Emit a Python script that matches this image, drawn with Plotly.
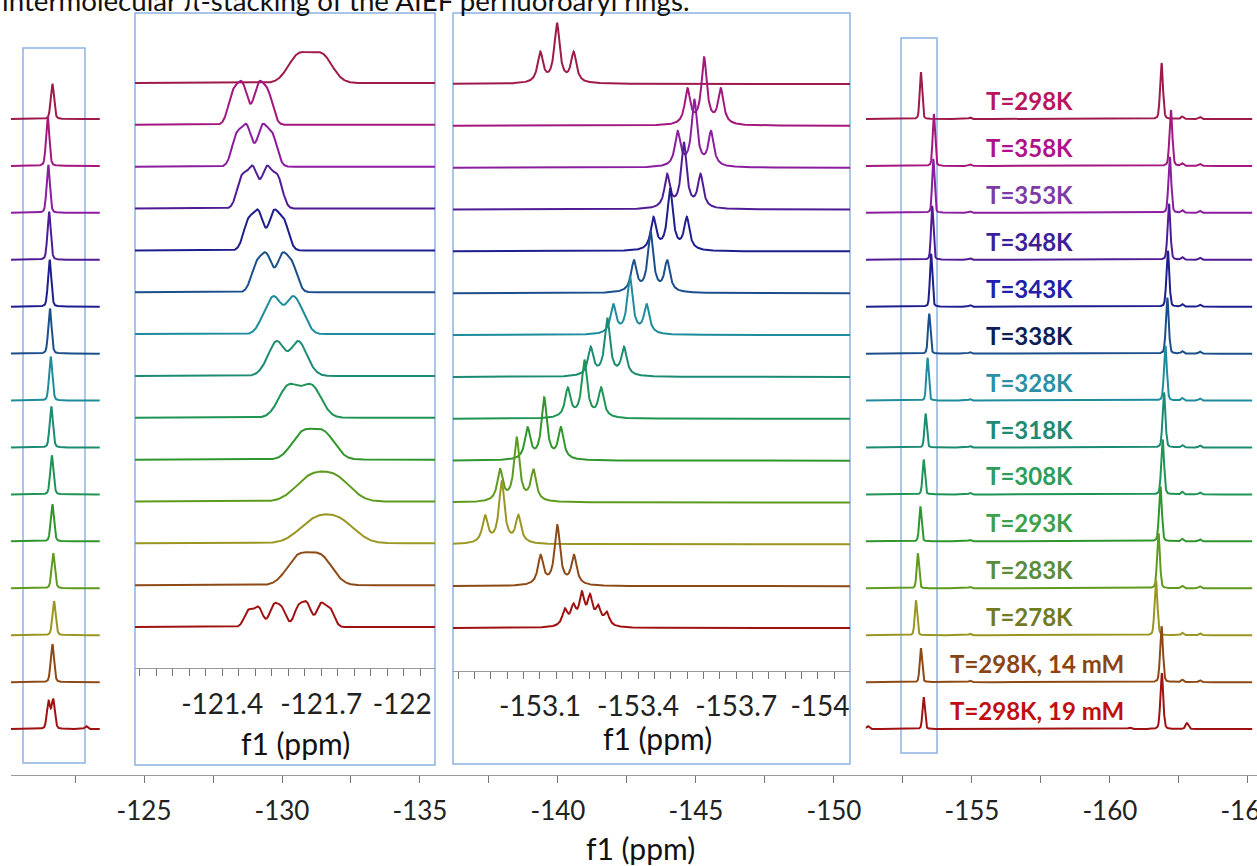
import numpy as np
import plotly.graph_objects as go

# ---------------- data ----------------
labels = ["T=298K", "T=358K", "T=353K", "T=348K", "T=343K", "T=338K", "T=328K",
          "T=318K", "T=308K", "T=293K", "T=283K", "T=278K", "T=298K, 14 mM", "T=298K, 19 mM"]
line_colors = ["#9E1A4A", "#A3177F", "#8A1E9E", "#4F1C96", "#1E1E8E", "#1B4F8C", "#1E8C9C",
               "#1C8B74", "#1E9455", "#2F962E", "#5E9A1E", "#9A9622", "#8E4A16", "#A01212"]
label_colors = ["#B8155E", "#B0108A", "#7D3BA6", "#3D1E99", "#2020AA", "#0F1F55", "#2B90A3",
                "#1F8A72", "#2E9C5A", "#3EA04A", "#5A8C3A", "#707A20", "#8B4513", "#C00F0F"]

# full-range spectrum: peak near -121.6 ppm (left strip)
peakA_ppm = [-121.68, -121.51, -121.53, -121.56, -121.58, -121.59, -121.62,
             -121.64, -121.66, -121.68, -121.71, -121.74, -121.68, -121.60]
peakA_h = [35, 49, 48, 48, 47, 45, 44, 41, 39, 37, 35, 34, 38, 30]
# peak near -153 ppm
peakB_ppm = [-153.15, -153.62, -153.60, -153.56, -153.52, -153.45, -153.39,
             -153.32, -153.25, -153.13, -153.04, -152.97, -153.15, -153.25]
peakB_h = [47, 52, 54, 54, 53, 40, 43, 34, 35, 35, 35, 35, 34, 32]
# peak near -162 ppm
peakC_ppm = [-161.87, -162.21, -162.17, -162.14, -162.10, -162.08, -162.01,
             -161.96, -161.91, -161.83, -161.76, -161.67, -161.87, -161.88]
peakC_h = [56, 56, 56, 56, 56, 56, 55, 55, 55, 55, 55, 55, 56, 56]
# small baseline bumps common to most spectra
bump_ppm = [-154.93, -162.62, -163.26]
bump_h = [1.5, 2.5, 2.0]
# 19 mM spectrum: split left peak and its own small bumps
m19_A_ppm = [-121.54, -121.71]
m19_A_h = [27, 29]
m19_bump_ppm = [-122.90, -151.23, -160.72, -162.79]
m19_bump_h = [3, 3, 1.5, 6]

# inset 1 (-121.1 ... -122.05 ppm)
in1_ppm = [-121.667, -121.486, -121.498, -121.514, -121.533, -121.558, -121.586,
           -121.598, -121.636, -121.676, -121.705, -121.717, -121.665, -121.604]
in1_h = [31, 44, 43, 43, 41, 40, 38, 35, 34, 31, 30, 29, 33, 26]
in1_inner = [0.035, 0.024, 0.023, 0.021, 0.023, 0.023, 0.025, 0.030, 0.035, 0.033, 0.040, 0.040, 0.035, 0.0]
in1_outer = [0.035, 0.053, 0.054, 0.054, 0.054, 0.054, 0.055, 0.060, 0.035, 0.033, 0.040, 0.040, 0.035, 0.0]
in1_outer_rel = [0, 0.78, 0.78, 0.78, 0.76, 0.75, 0.5, 0.25, 0, 0, 0, 0, 0, 0]
in1_width = [0.032, 0.015, 0.015, 0.015, 0.015, 0.016, 0.020, 0.022, 0.030, 0.033, 0.045, 0.048, 0.035, 0.013]
m19_in1_ppm = [-121.480, -121.510, -121.556, -121.581, -121.631, -121.657, -121.699, -121.727]
m19_in1_h = [16, 19, 20, 17, 19, 22, 22, 17]

# inset 2 (-152.8 ... -154.05 ppm): triplets
in2_ppm = [-153.152, -153.602, -153.572, -153.540, -153.498, -153.438, -153.375,
           -153.306, -153.236, -153.113, -153.029, -152.983, -153.153, -153.24]
in2_center_h = [59, 66, 66, 65, 61, 60, 57, 57, 57, 61, 63, 62, 59, 0]
in2_side_h = [30, 35, 34, 33, 32, 31, 29, 28, 29, 31, 31, 27, 29, 0]
in2_J = 0.051
m19_in2_ppm = [-153.176, -153.202, -153.228, -153.253, -153.278, -153.304]
m19_in2_h = [16, 18, 30, 27, 17, 13]

main_ticks = [-125, -130, -135, -140, -145, -150, -155, -160, -165]
in1_ticks = [-121.4, -121.7, -122.0]
in2_ticks = [-153.1, -153.4, -153.7, -154.0]

# ---------------- helpers ----------------
W, H = 1257, 866
N = len(labels)


def gauss(x, c, s):
    return np.exp(-0.5 * ((x - c) / s) ** 2)


def lor(x, c, w):
    return 1.0 / (1.0 + ((x - c) / w) ** 2)


def pv(x, c, w):
    return 0.75 * gauss(x, c, w / 1.1774) + 0.25 * lor(x, c, w)


x_left = np.arange(-120.18, -123.40, -0.004)
x_right = np.arange(-151.16, -165.16, -0.004)
x_in1 = np.linspace(-121.13, -122.05, 1400)
x_in2 = np.linspace(-152.83, -154.05, 1800)

AXIS_Y = 775
MAIN_BASE, MAIN_STEP = AXIS_Y - 119.0, 46.93
IN1_BASE, IN2_BASE, IN_STEP = 585.0, 587.0, 41.85

fig = go.Figure()

for i in range(N):
    col = line_colors[i]
    # ---- main axis (left strip + right part) ----
    off = MAIN_BASE - i * MAIN_STEP
    if i == N - 1:
        yl = sum(h * pv(x_left, p, 0.07) for p, h in zip(m19_A_ppm, m19_A_h))
        yr = peakB_h[i] * pv(x_right, peakB_ppm[i], 0.05) + peakC_h[i] * pv(x_right, peakC_ppm[i], 0.06)
        for p, h in zip(m19_bump_ppm, m19_bump_h):
            yl = yl + h * pv(x_left, p, 0.06)
            yr = yr + h * pv(x_right, p, 0.06)
    else:
        yl = peakA_h[i] * pv(x_left, peakA_ppm[i], 0.07)
        yr = peakB_h[i] * pv(x_right, peakB_ppm[i], 0.05) + peakC_h[i] * pv(x_right, peakC_ppm[i], 0.06)
        for p, h in zip(bump_ppm, bump_h):
            yr = yr + h * pv(x_right, p, 0.05)
    xs = np.concatenate([x_left, [np.nan], x_right])
    ys = np.concatenate([yl + off, [np.nan], yr + off])
    fig.add_trace(go.Scatter(x=xs, y=ys, mode="lines", line=dict(color=col, width=2),
                             xaxis="x", yaxis="y", hoverinfo="skip", connectgaps=False))

    # ---- inset 1 ----
    off1 = IN1_BASE - i * IN_STEP
    if i == N - 1:
        shape = sum(h * gauss(x_in1, p, in1_width[i]) for p, h in zip(m19_in1_ppm, m19_in1_h))
        y1 = in1_h[i] * shape / shape.max()
    else:
        c, s = in1_ppm[i], in1_width[i]
        d1, d2, a2 = in1_inner[i], in1_outer[i], in1_outer_rel[i]
        shape = (gauss(x_in1, c - d1, s) + gauss(x_in1, c + d1, s)
                 + a2 * (gauss(x_in1, c - d2, s) + gauss(x_in1, c + d2, s)))
        y1 = in1_h[i] * shape / shape.max()
    fig.add_trace(go.Scatter(x=x_in1, y=y1 + off1, mode="lines", line=dict(color=col, width=2),
                             xaxis="x2", yaxis="y2", hoverinfo="skip"))

    # ---- inset 2 ----
    off2 = IN2_BASE - i * IN_STEP
    if i == N - 1:
        y2 = sum(h * lor(x_in2, p, 0.0095) for p, h in zip(m19_in2_ppm, m19_in2_h))
    else:
        c = in2_ppm[i]
        y2 = (in2_center_h[i] * lor(x_in2, c, 0.0100)
              + in2_side_h[i] * (lor(x_in2, c - in2_J, 0.0100) + lor(x_in2, c + in2_J, 0.0100)))
    fig.add_trace(go.Scatter(x=x_in2, y=y2 + off2, mode="lines", line=dict(color=col, width=2),
                             xaxis="x3", yaxis="y3", hoverinfo="skip"))

# ---------------- labels ----------------
annotations = []
for i in range(N):
    off = MAIN_BASE - i * MAIN_STEP
    annotations.append(dict(
        x=-157.07 if i < N - 2 else -157.35, y=off + 18.5, xref="x", yref="y",
        text="<b>%s</b>" % labels[i], showarrow=False, xanchor="center", yanchor="middle",
        font=dict(family="Lato", size=24, color=label_colors[i])))

annotations.append(dict(x=0.0, y=1 - 19 / H, xref="paper", yref="paper", xanchor="left", yanchor="bottom",
                        text="intermolecular π-stacking of the AIEF perfluoroaryl rings.", showarrow=False,
                        font=dict(family="Lato", size=27.7, color="#111")))
for (cx, cy) in [(295, 743), (657, 738), (640, 848)]:
    annotations.append(dict(x=cx / W, y=1 - cy / H, xref="paper", yref="paper", text="f1 (ppm)",
                            showarrow=False, xanchor="center", yanchor="middle",
                            font=dict(family="Lato", size=30, color="#111")))

box_col = "#8DB3E2"
boxes = [(23, 48, 85, 763), (135, 13, 435, 765), (453, 13, 850, 764), (901, 38, 937, 753)]
shapes = [dict(type="rect", xref="paper", yref="paper", x0=a / W, x1=c / W, y0=1 - d / H, y1=1 - b / H,
               line=dict(color=box_col, width=1.5), layer="below") for a, b, c, d in boxes]

NB = "\u00a0"
axis_common = dict(showgrid=False, zeroline=False, ticks="outside", showline=True, automargin=False,
                   linecolor="#999", linewidth=1.2, tickcolor="#777", ticklabeloverflow="allow")

fig.update_layout(
    width=W, height=H, autosize=False,
    margin=dict(l=0, r=0, t=0, b=0, pad=0, autoexpand=False),
    paper_bgcolor="white", plot_bgcolor="rgba(0,0,0,0)", showlegend=False,
    annotations=annotations, shapes=shapes,
    xaxis=dict(domain=[11 / W, 1], range=[-120.18, -165.33], anchor="y",
               tickmode="array", tickvals=main_ticks, ticktext=["%d" % t for t in main_ticks],
               minor=dict(tickvals=[t - 2.5 for t in [-120] + main_ticks], ticks="outside",
                          ticklen=7, tickcolor="#777"),
               ticklen=7, ticklabelstandoff=6,
               tickfont=dict(family="Lato", size=26, color="#222"), **axis_common),
    yaxis=dict(domain=[(H - AXIS_Y) / H, 1], range=[0, AXIS_Y], visible=False, anchor="x", automargin=False),
    xaxis2=dict(domain=[135 / W, 435 / W], range=[-121.136, -122.045], anchor="y2",
                tickmode="array", tickvals=in1_ticks, ticktext=["-121.4", "-121.7", "-122" + NB * 5],
                minor=dict(tickvals=list(np.round(np.arange(-121.15, -122.05, -0.05), 3)),
                           ticks="outside", ticklen=7, tickcolor="#777"),
                ticklen=7, ticklabelstandoff=4,
                tickfont=dict(family="Lato", size=28, color="#222"), **axis_common),
    yaxis2=dict(domain=[(H - 668) / H, (H - 13) / H], range=[0, 655], visible=False, anchor="x2",
                automargin=False),
    xaxis3=dict(domain=[453 / W, 850 / W], range=[-152.834, -154.048], anchor="y3",
                tickmode="array", tickvals=in2_ticks,
                ticktext=["-153.1", "-153.4", "-153.7", "-154" + NB * 4],
                minor=dict(tickvals=list(np.round(np.arange(-152.85, -154.05, -0.05), 3)),
                           ticks="outside", ticklen=7, tickcolor="#777"),
                ticklen=7, ticklabelstandoff=3,
                tickfont=dict(family="Lato", size=28, color="#222"), **axis_common),
    yaxis3=dict(domain=[(H - 671) / H, (H - 13) / H], range=[0, 658], visible=False, anchor="x3",
                automargin=False),
)

fig.write_html("out.html")
